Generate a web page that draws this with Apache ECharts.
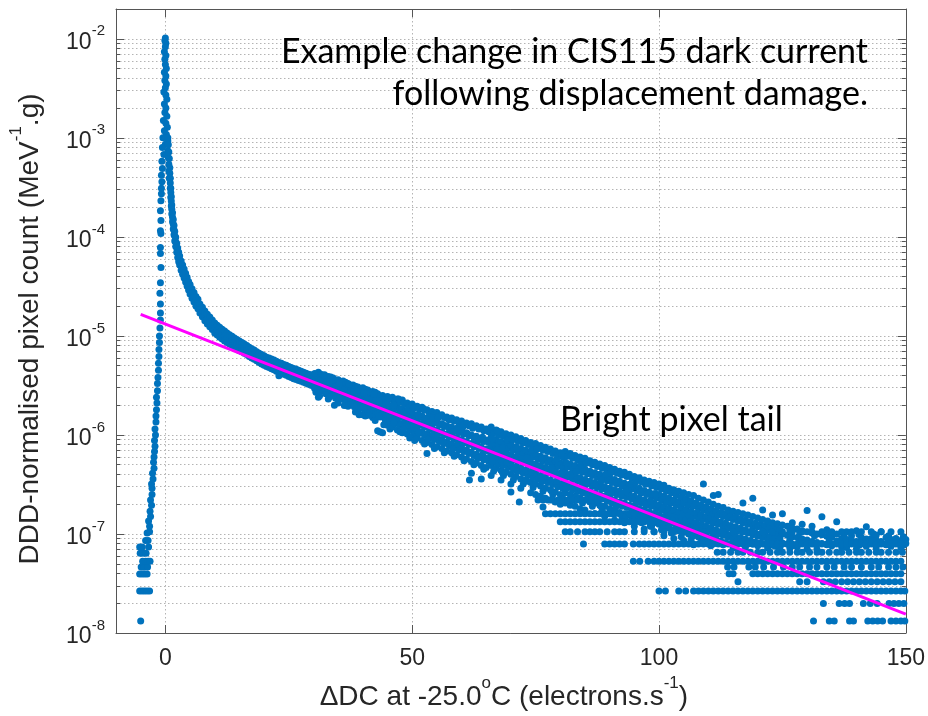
<!DOCTYPE html>
<html>
<head>
<meta charset="utf-8">
<style>
  html, body { margin: 0; padding: 0; background: #fff; }
  #chart { width: 928px; height: 716px; }
</style>
<script src="https://cdn.jsdelivr.net/npm/echarts@6.0.0/dist/echarts.min.js"></script>
</head>
<body>
<div id="chart"></div>
<script>
// Dark-current change histogram (DDD-normalised pixel count vs ΔDC).

// Rising edge below zero: [ΔDC, count]
const leftFlank = [
  [-5.0,1.32e-8],
  [-5.2,2.65e-8],[-4.7,2.65e-8],[-4.2,2.65e-8],[-3.7,2.65e-8],[-3.2,2.65e-8],
  [-5.2,3.95e-8],[-4.7,3.95e-8],[-4.2,3.95e-8],[-3.7,3.95e-8],
  [-4.9,4.65e-8],[-4.3,4.65e-8],[-3.6,4.65e-8],
  [-4.6,5.3e-8],[-4.0,5.3e-8],[-3.5,5.3e-8],[-3.1,5.3e-8],
  [-5.1,6.4e-8],[-4.5,6.4e-8],[-3.9,6.4e-8],
  [-5.2,7.4e-8],[-4.7,7.4e-8],[-3.4,7.4e-8],
  [-4.0,8.6e-8],[-3.5,8.6e-8],
  [-3.7,1.02e-7],[-3.2,1.05e-7],
  [-3.2,1.2e-7],[-3.4,1.35e-7],[-3.0,1.5e-7],[-3.1,1.7e-7],[-2.8,1.95e-7],[-3.0,2.2e-7],
  [-2.7,2.5e-7],[-2.7,2.9e-7],[-2.8,3.2e-7],[-2.5,3.6e-7],[-2.6,4.1e-7],[-2.3,4.6e-7],
  [-2.4,5.3e-7],[-2.3,6.0e-7],[-2.2,6.8e-7],[-2.1,7.7e-7],[-2.2,8.8e-7],[-2.0,1.0e-6],
  [-2.1,1.15e-6],[-1.9,1.35e-6],[-1.9,1.55e-6],[-1.8,1.8e-6],[-1.7,2.1e-6],[-1.8,2.4e-6],
  [-1.6,2.8e-6],[-1.6,3.3e-6],[-1.5,3.8e-6],[-1.4,4.5e-6],[-1.4,5.3e-6],[-1.3,6.2e-6],
  [-1.3,7.3e-6],[-1.2,8.6e-6],[-1.2,1.0e-5],[-1.1,1.2e-5],[-1.0,1.45e-5],[-1.0,1.7e-5],
  [-1.0,2.1e-5],[-1.1,2.7e-5],[-1.0,3.45e-5],[-0.9,4.9e-5],[-1.0,6.8e-5],[-1.0,7.8e-5],
  [-0.9,1.08e-4],[-1.0,1.15e-4],[-0.9,1.46e-4],[-1.0,1.84e-4],[-0.9,2.32e-4],[-0.8,2.72e-4]
];

// Main peak around zero: [ΔDC, count]
const peakColumn = [
  [0.0,1.02e-2],[-0.1,9.6e-3],[0.1,9.0e-3],[0.0,8.3e-3],[-0.2,7.4e-3],[0.1,6.8e-3],
  [-0.1,6.2e-3],[0.0,5.5e-3],[0.2,5.0e-3],[-0.2,4.6e-3],[0.1,4.2e-3],[-0.1,3.8e-3],
  [0.2,3.5e-3],[0.0,3.2e-3],[-0.3,2.9e-3],[0.1,2.7e-3],[0.3,2.45e-3],[-0.2,2.2e-3],
  [0.1,2.0e-3],[-0.1,1.8e-3],[0.3,1.65e-3],[-0.4,1.5e-3],[0.1,1.4e-3],[0.4,1.28e-3],
  [-0.2,1.18e-3],[0.2,1.08e-3],[-0.5,1.0e-3],[0.5,9.3e-4],[0.0,8.6e-4],[-0.6,8.0e-4],
  [0.5,7.4e-4],[-0.3,6.8e-4],[0.6,6.3e-4],[-0.7,5.8e-4],[0.7,5.4e-4],[-0.6,4.9e-4],
  [0.7,4.6e-4],[-0.8,4.2e-4],[0.8,3.9e-4],[-0.7,3.6e-4],[-0.8,3.1e-4]
];

// Fall-off right of the peak: [ΔDC, counts...]
const decayCurve = [
  [0.5,1.0e-3],[0.6,8.5e-4],[0.7,7.2e-4],[0.8,6.2e-4],
  [0.9,5.0e-4,4.4e-4,3.9e-4],
  [1.0,3.9e-4,3.5e-4,3.1e-4],
  [1.1,3.1e-4,2.8e-4,2.5e-4],
  [1.2,2.55e-4,2.3e-4,2.05e-4],
  [1.3,2.1e-4,1.9e-4,1.7e-4],
  [1.45,1.75e-4,1.58e-4,1.42e-4],
  [1.6,1.5e-4,1.35e-4,1.2e-4],
  [1.75,1.3e-4,1.17e-4,1.05e-4],
  [1.9,1.13e-4,1.02e-4,9.1e-5],
  [2.1,9.9e-5,8.9e-5,8.0e-5],
  [2.3,8.6e-5,7.8e-5,7.0e-5],
  [2.5,7.7e-5,6.9e-5,6.2e-5],
  [2.7,7.0e-5,6.3e-5,5.6e-5],
  [2.9,6.4e-5,5.75e-5,5.2e-5],
  [3.2,5.7e-5,5.1e-5,4.6e-5],
  [3.5,5.2e-5,4.7e-5,4.2e-5],
  [3.8,4.75e-5,4.3e-5,3.85e-5],
  [4.1,4.3e-5,3.9e-5,3.5e-5],
  [4.4,3.9e-5,3.55e-5,3.2e-5],
  [4.7,3.55e-5,3.2e-5,2.9e-5],
  [5.0,3.3e-5,2.95e-5,2.65e-5],
  [5.4,3.0e-5,2.7e-5,2.4e-5],
  [5.8,2.75e-5,2.45e-5,2.2e-5],
  [6.2,2.5e-5,2.25e-5,2.0e-5],
  [6.6,2.35e-5,2.1e-5,1.88e-5],
  [7.0,2.1e-5,1.9e-5,1.7e-5],
  [7.5,1.95e-5,1.74e-5,1.56e-5],
  [8.0,1.78e-5,1.58e-5,1.42e-5],
  [8.5,1.65e-5,1.48e-5,1.32e-5],
  [9.0,1.55e-5,1.38e-5,1.24e-5],
  [9.5,1.45e-5,1.29e-5,1.16e-5]
];

// Bright pixel tail: [ΔDC, counts...]
const tailBand = [
  [10,1.35e-5,1.2e-5,1.07e-5],[10.5,1.28e-5,1.14e-5,1.02e-5],[11,1.22e-5,1.09e-5,9.7e-6],
  [11.5,1.17e-5,1.04e-5,9.3e-6],[12,1.12e-5,1.0e-5,8.9e-6],[12.5,1.07e-5,9.6e-6,8.6e-6],
  [13,1.03e-5,9.2e-6,8.3e-6],[13.5,9.9e-6,8.9e-6,8.0e-6],[14,9.5e-6,8.6e-6,7.7e-6],
  [14.5,9.2e-6,8.3e-6,7.4e-6],[15,8.9e-6,8.0e-6,7.1e-6],[15.5,8.6e-6,7.7e-6,6.9e-6],
  [16,8.3e-6,7.4e-6,6.7e-6],[16.5,8.0e-6,7.2e-6,6.5e-6],[17,7.7e-6,6.9e-6,6.2e-6],
  [17.5,7.4e-6,6.7e-6,6.0e-6],[18,7.2e-6,6.5e-6,5.8e-6],[18.5,6.9e-6,6.3e-6,5.6e-6],
  [19,6.7e-6,6.0e-6,5.4e-6],[19.5,6.5e-6,5.8e-6,5.2e-6],[20,6.3e-6,5.6e-6,5.05e-6],
  [20.5,6.1e-6,5.45e-6,4.9e-6],[21,6.0e-6,5.3e-6,4.8e-6],[21.5,5.85e-6,5.2e-6,4.65e-6],
  [22,5.7e-6,5.05e-6,4.55e-6],[22.5,5.55e-6,4.95e-6,4.4e-6],[23,5.4e-6,4.8e-6,4.3e-6,3.95e-6],
  [23.5,5.3e-6,4.7e-6,4.2e-6],[24,5.15e-6,4.6e-6,4.1e-6],[24.5,5.05e-6,4.45e-6,4.0e-6],
  [25,4.9e-6,4.35e-6,3.9e-6],[25.5,4.8e-6,4.25e-6,3.8e-6],[26,4.7e-6,4.15e-6,3.7e-6],
  [26.5,4.6e-6,4.05e-6,3.62e-6],[27,4.5e-6,4.0e-6,3.55e-6],[27.5,4.4e-6,3.9e-6,3.48e-6],
  [28,4.3e-6,3.8e-6,3.4e-6],[28.5,4.2e-6,3.72e-6,3.32e-6],[29,4.1e-6,3.65e-6,3.25e-6],
  [29.5,4.05e-6,3.58e-6,3.18e-6],[30,3.95e-6,3.5e-6,3.1e-6],
  [30.5,3.75e-6,3.3e-6,2.95e-6,2.7e-6],
  [31,4.3e-6,3.8e-6,3.35e-6,2.95e-6,2.4e-6],
  [31.5,4.1e-6,3.6e-6,3.2e-6,2.85e-6],
  [32,4.0e-6,3.55e-6,3.15e-6,2.8e-6],
  [32.5,3.85e-6,3.35e-6,2.95e-6,2.6e-6],
  [33,3.9e-6,3.45e-6,3.0e-6,2.65e-6,2.3e-6],
  [33.5,3.85e-6,3.2e-6,2.8e-6,2.5e-6],
  [34,3.75e-6,3.3e-6,2.9e-6,2.55e-6],
  [34.5,3.55e-6,3.1e-6,2.7e-6,2.35e-6],
  [35,3.6e-6,3.15e-6,2.75e-6,2.45e-6,2.1e-6],
  [35.5,3.45e-6,2.95e-6,2.6e-6,2.3e-6],
  [36,3.5e-6,3.05e-6,2.65e-6,2.3e-6],
  [36.5,3.4e-6,2.85e-6,2.5e-6,2.15e-6],
  [37,3.3e-6,2.9e-6,2.55e-6,2.2e-6,1.95e-6],
  [37.5,3.1e-6,2.7e-6,2.35e-6,2.05e-6],
  [38,3.2e-6,2.8e-6,2.45e-6,2.1e-6],
  [38.5,3.1e-6,2.6e-6,2.25e-6,1.95e-6,1.7e-6],
  [39,3.05e-6,2.65e-6,2.3e-6,2.0e-6,1.75e-6],
  [39.5,2.85e-6,2.45e-6,2.15e-6,1.85e-6],
  [40,3.0e-6,2.55e-6,2.2e-6,1.9e-6,1.6e-6],
  [40.5,2.9e-6,2.4e-6,2.05e-6,1.75e-6,1.55e-6],
  [41,2.85e-6,2.45e-6,2.1e-6,1.8e-6],
  [41.5,2.65e-6,2.3e-6,1.95e-6,1.68e-6],
  [42,2.75e-6,2.35e-6,2.0e-6,1.72e-6,1.5e-6],
  [42.5,2.7e-6,2.2e-6,1.88e-6,1.6e-6,1.4e-6],
  [43,2.6e-6,2.25e-6,1.92e-6,1.65e-6,1.1e-6],
  [43.5,2.45e-6,2.1e-6,1.8e-6,1.52e-6,1.07e-6],
  [44,2.5e-6,2.15e-6,1.85e-6,1.55e-6,1.05e-6],
  [44.5,2.35e-6,2.0e-6,1.7e-6,1.45e-6,1.3e-6],
  [45,2.45e-6,2.05e-6,1.75e-6,1.5e-6,1.25e-6],
  [45.5,2.3e-6,1.9e-6,1.62e-6,1.38e-6,1.15e-6],
  [46,2.4e-6,2.0e-6,1.7e-6,1.45e-6,1.2e-6],
  [46.5,2.2e-6,1.85e-6,1.55e-6,1.3e-6],
  [47,2.3e-6,1.9e-6,1.6e-6,1.35e-6,1.12e-6],
  [47.5,2.15e-6,1.78e-6,1.5e-6,1.25e-6,1.08e-6],
  [48,2.25e-6,1.85e-6,1.55e-6,1.3e-6,1.05e-6],
  [48.5,2.05e-6,1.7e-6,1.42e-6,1.2e-6],
  [49,2.1e-6,1.75e-6,1.48e-6,1.25e-6,1.02e-6],
  [49.5,2.0e-6,1.62e-6,1.37e-6,1.12e-6,9.3e-7],
  [50,2.05e-6,1.7e-6,1.42e-6,1.18e-6,9.7e-7],
  [50.5,1.88e-6,1.55e-6,1.3e-6,1.07e-6,8.8e-7],
  [51,1.95e-6,1.6e-6,1.35e-6,1.12e-6,9.3e-7],
  [51.5,1.82e-6,1.5e-6,1.25e-6,1.04e-6],
  [52,1.9e-6,1.55e-6,1.3e-6,1.08e-6,8.8e-7],
  [52.5,1.78e-6,1.42e-6,1.2e-6,9.9e-7,8.1e-7],
  [53,1.8e-6,1.48e-6,1.23e-6,1.02e-6,8.4e-7,6.5e-7],
  [53.5,1.65e-6,1.37e-6,1.14e-6,9.4e-7],
  [54,1.72e-6,1.42e-6,1.18e-6,9.8e-7,8.0e-7],
  [54.5,1.62e-6,1.32e-6,1.09e-6,9.0e-7,7.3e-7],
  [55,1.68e-6,1.36e-6,1.12e-6,9.3e-7,7.6e-7],
  [55.5,1.55e-6,1.26e-6,1.04e-6,8.6e-7],
  [56,1.6e-6,1.3e-6,1.07e-6,8.9e-7,7.3e-7],
  [56.5,1.5e-6,1.22e-6,1.0e-6,8.2e-7,6.6e-7],
  [57,1.52e-6,1.24e-6,1.02e-6,8.5e-7,6.9e-7],
  [57.5,1.42e-6,1.16e-6,9.5e-7,7.8e-7],
  [58,1.48e-6,1.2e-6,9.8e-7,8.1e-7,6.6e-7],
  [58.5,1.38e-6,1.12e-6,9.1e-7,7.4e-7,6.1e-7],
  [59,1.42e-6,1.14e-6,9.4e-7,7.7e-7,6.3e-7],
  [59.5,1.33e-6,1.06e-6,8.7e-7,7.1e-7],
  [60,1.38e-6,1.1e-6,9.0e-7,7.4e-7,6.0e-7],
  [60.5,1.28e-6,1.02e-6,8.3e-7,6.8e-7,5.5e-7],
  [61,1.32e-6,1.05e-6,8.6e-7,7.0e-7,5.7e-7],
  [61.5,1.24e-6,9.8e-7,8.0e-7,6.5e-7],
  [61.6,3.5e-7],
  [62,1.3e-6,1.0e-6,8.2e-7,6.7e-7,5.4e-7,4.1e-7],
  [62.5,1.2e-6,9.4e-7,7.6e-7,6.2e-7,5.0e-7],
  [63,1.24e-6,9.7e-7,7.9e-7,6.4e-7,5.2e-7],
  [63.5,1.15e-6,9.0e-7,7.3e-7,5.9e-7],
  [64,1.2e-6,9.3e-7,7.5e-7,6.1e-7,4.9e-7,3.6e-7],
  [64.5,1.1e-6,8.6e-7,7.0e-7,5.6e-7,4.5e-7],
  [65,1.15e-6,8.9e-7,7.2e-7,5.8e-7,4.7e-7],
  [65.5,1.08e-6,8.4e-7,6.8e-7,5.4e-7],
  [66,1.2e-6,9.5e-7,7.6e-7,6.1e-7,4.9e-7,3.9e-7],
  [66.5,1.05e-6,8.2e-7,6.6e-7,5.3e-7,4.3e-7],
  [67,1.12e-6,9.0e-7,7.2e-7,5.8e-7,4.6e-7],
  [67.5,1.0e-6,7.9e-7,6.3e-7,5.1e-7],
  [68,1.08e-6,8.6e-7,6.9e-7,5.5e-7,4.4e-7,3.5e-7],
  [68.5,9.8e-7,7.6e-7,6.1e-7,4.9e-7,3.9e-7],
  [69,1.03e-6,8.2e-7,6.6e-7,5.3e-7,4.2e-7],
  [69.5,9.3e-7,7.3e-7,5.8e-7,4.7e-7],
  [70,1.0e-6,7.9e-7,6.3e-7,5.0e-7,4.0e-7,3.2e-7,2.65e-7],
  [70.5,9.0e-7,7.0e-7,5.6e-7,4.5e-7,3.5e-7],
  [71,9.6e-7,7.6e-7,6.0e-7,4.8e-7,3.8e-7],
  [71.5,8.6e-7,6.7e-7,5.4e-7,4.3e-7],
  [71.7,2.1e-7],
  [72,9.2e-7,7.3e-7,5.8e-7,4.6e-7,3.6e-7,2.9e-7],
  [72.5,8.3e-7,6.5e-7,5.2e-7,4.1e-7,3.2e-7],
  [73,8.8e-7,7.0e-7,5.5e-7,4.4e-7,3.5e-7],
  [73.5,8.0e-7,6.2e-7,4.9e-7,3.9e-7],
  [74,8.4e-7,6.7e-7,5.3e-7,4.2e-7,3.3e-7,2.6e-7],
  [74.5,7.6e-7,6.0e-7,4.7e-7,3.7e-7,2.95e-7],
  [75,8.2e-7,6.4e-7,5.1e-7,4.0e-7,3.2e-7,2.5e-7],
  [75.5,7.3e-7,5.7e-7,4.5e-7,3.6e-7],
  [76,7.8e-7,6.1e-7,4.9e-7,3.85e-7,3.05e-7,2.4e-7],
  [76.5,7.0e-7,5.5e-7,4.3e-7,3.4e-7,2.7e-7,1.87e-7],
  [77,7.5e-7,5.9e-7,4.7e-7,3.7e-7,2.9e-7,2.3e-7],
  [77.5,6.8e-7,5.3e-7,4.15e-7,3.3e-7],
  [78,7.2e-7,5.6e-7,4.5e-7,3.5e-7,2.8e-7,2.2e-7],
  [78.5,6.5e-7,5.0e-7,4.0e-7,3.15e-7,2.5e-7],
  [79,6.9e-7,5.4e-7,4.3e-7,3.35e-7,2.65e-7,2.1e-7],
  [79.5,6.3e-7,4.8e-7,3.8e-7,3.0e-7],
  [80,6.6e-7,5.2e-7,4.1e-7,3.2e-7,2.5e-7,2.0e-7],
  [80.5,6.0e-7,4.7e-7,3.7e-7,2.9e-7,2.3e-7],
  [81,6.8e-7,5.3e-7,4.2e-7,3.3e-7,2.6e-7,2.05e-7],
  [81.5,6.1e-7,4.75e-7,3.75e-7,2.95e-7],
  [82,6.5e-7,5.1e-7,4.0e-7,3.15e-7,2.5e-7,1.95e-7],
  [82.5,5.8e-7,4.5e-7,3.55e-7,2.8e-7,2.2e-7],
  [83,6.2e-7,4.9e-7,3.85e-7,3.0e-7,2.4e-7,1.9e-7],
  [83.5,5.6e-7,4.35e-7,3.45e-7,2.7e-7],
  [84,6.0e-7,4.7e-7,3.7e-7,2.9e-7,2.3e-7,1.8e-7],
  [84.5,5.4e-7,4.2e-7,3.3e-7,2.6e-7,2.05e-7],
  [85,5.8e-7,4.5e-7,3.55e-7,2.8e-7,2.2e-7,1.75e-7],
  [85.5,5.2e-7,4.05e-7,3.2e-7,2.5e-7],
  [86,5.5e-7,4.3e-7,3.4e-7,2.7e-7,2.1e-7],
  [86.5,5.0e-7,3.9e-7,3.05e-7,2.4e-7,1.9e-7],
  [87,5.3e-7,4.15e-7,3.3e-7,2.6e-7,2.05e-7,1.6e-7],
  [87.5,4.8e-7,3.75e-7,2.95e-7,2.3e-7],
  [88,5.1e-7,4.0e-7,3.15e-7,2.5e-7,1.95e-7],
  [88.5,4.6e-7,3.6e-7,2.85e-7,2.25e-7,1.75e-7],
  [89,4.9e-7,3.85e-7,3.0e-7,2.4e-7,1.9e-7,1.5e-7],
  [89.5,4.4e-7,3.45e-7,2.75e-7,2.15e-7],
  [90,4.7e-7,3.7e-7,2.9e-7,2.3e-7,1.8e-7],
  [90.5,4.25e-7,3.3e-7,2.6e-7,2.05e-7,1.6e-7],
  [91,4.5e-7,3.55e-7,2.8e-7,2.2e-7,1.75e-7,1.38e-7],
  [91.5,4.1e-7,3.2e-7,2.5e-7,1.98e-7],
  [92,4.3e-7,3.4e-7,2.7e-7,2.1e-7,1.65e-7],
  [92.5,3.95e-7,3.05e-7,2.4e-7,1.9e-7,1.5e-7],
  [93,4.2e-7,3.25e-7,2.6e-7,2.05e-7,1.6e-7,1.3e-7],
  [93.5,3.8e-7,2.95e-7,2.35e-7,1.85e-7],
  [94,4.0e-7,3.15e-7,2.5e-7,1.95e-7,1.55e-7],
  [94.5,3.65e-7,2.85e-7,2.25e-7,1.75e-7,1.4e-7],
  [95,3.8e-7,3.0e-7,2.4e-7,1.9e-7,1.5e-7,1.2e-7],
  [95.5,3.5e-7,2.75e-7,2.15e-7,1.7e-7],
  [96,3.7e-7,2.9e-7,2.3e-7,1.8e-7,1.45e-7],
  [96.5,3.35e-7,2.6e-7,2.05e-7,1.62e-7,1.3e-7],
  [97,3.5e-7,2.75e-7,2.2e-7,1.75e-7,1.4e-7,1.12e-7],
  [97.5,3.2e-7,2.5e-7,1.95e-7,1.55e-7],
  [98,3.4e-7,2.65e-7,2.1e-7,1.68e-7,1.35e-7],
  [98.5,3.05e-7,2.4e-7,1.9e-7,1.5e-7,1.2e-7],
  [99,3.3e-7,2.55e-7,2.05e-7,1.6e-7,1.3e-7,1.05e-7],
  [99.5,2.95e-7,2.3e-7,1.8e-7,1.45e-7],
  [100,3.2e-7,2.5e-7,1.95e-7,1.55e-7,1.25e-7],
  [100.5,2.85e-7,2.2e-7,1.75e-7,1.38e-7,1.1e-7],
  [101,3.1e-7,2.4e-7,1.9e-7,1.5e-7,1.2e-7,9.6e-8],
  [101.5,2.7e-7,2.1e-7,1.68e-7,1.33e-7],
  [102,2.9e-7,2.3e-7,1.82e-7,1.45e-7,1.15e-7],
  [102.5,2.6e-7,2.05e-7,1.6e-7,1.28e-7,1.02e-7],
  [103,2.8e-7,2.2e-7,1.75e-7,1.4e-7,1.1e-7,9.0e-8],
  [103.5,2.45e-7,1.95e-7,1.55e-7,1.22e-7],
  [104,2.7e-7,2.1e-7,1.68e-7,1.35e-7,1.08e-7],
  [104.5,2.35e-7,1.85e-7,1.48e-7,1.18e-7,9.4e-8],
  [105,2.6e-7,2.05e-7,1.62e-7,1.3e-7,1.04e-7,8.6e-8],
  [105.5,2.25e-7,1.78e-7,1.42e-7,1.13e-7],
  [106,2.5e-7,1.95e-7,1.55e-7,1.25e-7,1.0e-7],
  [106.5,2.15e-7,1.7e-7,1.37e-7,1.09e-7,8.8e-8],
  [107,2.45e-7,1.9e-7,1.5e-7,1.2e-7,9.6e-8,7.8e-8],
  [107.5,2.05e-7,1.62e-7,1.3e-7,1.04e-7],
  [108,2.3e-7,1.8e-7,1.45e-7,1.15e-7,9.3e-8],
  [108.5,1.95e-7,1.55e-7,1.25e-7,1.0e-7,8.2e-8],
  [109,3.2e-7,2.2e-7,1.75e-7,1.4e-7,1.1e-7,8.9e-8],
  [109.5,1.88e-7,1.5e-7,1.2e-7,9.6e-8],
  [110,2.1e-7,1.68e-7,1.35e-7,1.07e-7,8.6e-8],
  [110.5,1.8e-7,1.45e-7,1.16e-7,9.2e-8,7.6e-8],
  [111,2.45e-7,2.0e-7,1.6e-7,1.3e-7,1.03e-7,8.3e-8],
  [111.5,1.72e-7,1.38e-7,1.1e-7,8.9e-8],
  [112,2.5e-7,1.9e-7,1.55e-7,1.25e-7,1.0e-7],
  [112.5,1.65e-7,1.32e-7,1.06e-7,8.5e-8],
  [113,1.85e-7,1.5e-7,1.2e-7,9.7e-8,7.8e-8],
  [113.5,1.6e-7,1.28e-7,1.03e-7,8.2e-8],
  [114,1.75e-7,1.45e-7,1.15e-7,9.4e-8],
  [114.5,1.52e-7,1.22e-7,9.8e-8,8.0e-8],
  [115,1.7e-7,1.4e-7,1.12e-7,9.0e-8,7.2e-8],
  [115.5,1.48e-7,1.18e-7,9.5e-8,7.7e-8],
  [116,1.65e-7,1.35e-7,1.08e-7,8.7e-8],
  [116.5,1.42e-7,1.14e-7,9.2e-8],
  [117,2.05e-7,1.6e-7,1.3e-7,1.05e-7,8.4e-8],
  [117.5,1.38e-7,1.1e-7,8.9e-8,7.3e-8],
  [118,1.55e-7,1.25e-7,1.02e-7,8.2e-8],
  [118.5,1.33e-7,1.06e-7,8.6e-8],
  [119,2.3e-7,1.5e-7,1.2e-7,9.8e-8,7.9e-8],
  [119.5,1.28e-7,1.03e-7,8.3e-8],
  [120,1.45e-7,1.18e-7,9.5e-8,7.6e-8],
  [120.5,1.25e-7,1.0e-7,8.1e-8],
  [121,1.75e-7,1.4e-7,1.14e-7,9.2e-8],
  [121.5,1.22e-7,9.8e-8,7.9e-8],
  [122,1.35e-7,1.1e-7,8.9e-8,7.2e-8],
  [122.5,1.18e-7,9.5e-8,7.7e-8],
  [123,1.55e-7,1.3e-7,1.06e-7,8.6e-8],
  [123.5,1.14e-7,9.2e-8,7.5e-8],
  [124,1.27e-7,1.03e-7,8.4e-8],
  [124.5,1.1e-7,9.0e-8,7.3e-8],
  [125,1.6e-7,1.23e-7,1.0e-7,8.1e-8],
  [126,1.2e-7,9.7e-8,7.9e-8],
  [126.5,1.07e-7,8.7e-8,7.2e-8],
  [127,1.3e-7,1.15e-7,9.4e-8,7.6e-8],
  [128,1.12e-7,9.2e-8,7.4e-8],
  [128.5,1.03e-7,8.4e-8],
  [129,1.25e-7,1.08e-7,8.9e-8],
  [130,1.73e-7,1.05e-7,8.7e-8,7.1e-8],
  [131,1.2e-7,1.02e-7,8.4e-8],
  [131.5,9.6e-8,7.9e-8],
  [132,1.0e-7,8.2e-8,7.0e-8],
  [133,1.49e-7,9.8e-8,8.0e-8],
  [134,1.1e-7,9.5e-8,7.8e-8],
  [134.5,1.02e-7,8.7e-8],
  [135,9.3e-8,7.6e-8],
  [136,1.33e-7,1.0e-7,8.5e-8],
  [137,9.0e-8,7.4e-8],
  [137.5,9.6e-8,8.1e-8],
  [138,1.05e-7,8.8e-8,7.3e-8],
  [139,9.6e-8,8.6e-8],
  [140,1.08e-7,8.4e-8,7.1e-8],
  [140.5,9.9e-8,7.7e-8],
  [141,9.2e-8,8.2e-8],
  [142,1.18e-7,8.9e-8,7.5e-8],
  [143,9.0e-8,8.0e-8],
  [143.5,1.0e-7,8.5e-8],
  [144,9.7e-8,8.6e-8,7.2e-8],
  [145,1.05e-7,8.4e-8],
  [146,9.2e-8,7.8e-8],
  [146.5,9.6e-8,8.5e-8],
  [147,8.8e-8,7.5e-8],
  [148,9.0e-8,8.2e-8],
  [149,8.6e-8,7.3e-8],
  [149.5,9.4e-8,7.7e-8],
  [150,8.8e-8,8.0e-8]
];

// Extra readings scattered through the densest part of the tail: [ΔDC, counts...]
const tailScatter = [
  [30.25,4.17e-6,2.94e-6],[31.25,3.53e-6,2.49e-6],[32.25,4.06e-6,2.96e-6],[33.25,3.44e-6,2.42e-6],
  [34.25,2.85e-6,2.0e-6],[35.25,3.33e-6,2.35e-6],[36.25,2.82e-6,1.98e-6],[37.25,3.24e-6,2.37e-6],
  [38.25,2.74e-6,1.93e-6],[39.25,2.28e-6,1.6e-6],[40.25,2.66e-6,1.87e-6],[41.25,2.25e-6,1.58e-6],
  [42.25,2.59e-6,1.89e-6],[43.25,2.2e-6,1.55e-6],[44.25,1.82e-6,1.27e-6],[45.25,2.35e-6,1.6e-6],
  [46.25,1.99e-6,1.33e-6],[47.25,2.3e-6,1.59e-6],[48.25,1.67e-6,1.14e-6],[49.25,1.86e-6,1.26e-6],
  [50.25,1.88e-6,1.28e-6],[51.25,1.6e-6,1.06e-6],[52.25,1.84e-6,1.27e-6],[53.25,1.33e-6,9.1e-7],
  [54.25,1.48e-6,1.01e-6],[55.25,1.5e-6,1.02e-6],[56.25,1.27e-6,8.5e-7],[57.25,1.46e-6,1.01e-6],
  [58.25,1.07e-6,7.3e-7],[59.25,1.19e-6,8.1e-7],[60.25,1.2e-6,8.2e-7],[61.25,1.02e-6,6.8e-7],
  [62.25,1.17e-6,8.1e-7],[63.25,8.5e-7,5.8e-7],[64.25,9.5e-7,6.4e-7],[65.25,1.13e-6,7.1e-7],
  [66.25,9.1e-7,5.4e-7],[67.25,1.1e-6,7.1e-7],[68.25,7.4e-7,4.2e-7],[69.25,8.9e-7,5.3e-7],
  [70.25,9.0e-7,5.65e-7],[71.25,7.3e-7,4.3e-7],[72.25,8.8e-7,5.7e-7],[73.25,5.9e-7,3.4e-7],
  [74.25,7.1e-7,4.25e-7],[75.25,7.2e-7,4.5e-7],[76.25,5.8e-7,3.45e-7],[77.25,7.0e-7,4.5e-7],
  [78.25,4.7e-7,2.7e-7],[79.25,5.7e-7,3.4e-7],[80.25,6.5e-7,4.0e-7],[81.25,5.2e-7,2.9e-7],
  [82.25,6.25e-7,3.95e-7],[83.25,4.25e-7,2.36e-7],[84.25,5.0e-7,3.0e-7],[85.25,5.2e-7,3.2e-7],
  [86.25,4.1e-7,2.35e-7],[87.25,5.0e-7,3.15e-7],[88.25,3.4e-7,1.9e-7],[89.25,4.0e-7,2.4e-7],
  [90.25,4.15e-7,2.55e-7],[91.25,3.3e-7,1.87e-7],[92.25,4.0e-7,2.5e-7],[93.25,2.7e-7,1.5e-7],
  [94.25,3.2e-7,1.92e-7],[95.25,3.3e-7,2.0e-7],[96.25,2.65e-7,1.5e-7],[97.25,3.2e-7,2.0e-7],
  [98.25,2.17e-7,1.2e-7],[99.25,2.55e-7,1.54e-7]
];

// Low-count bins in the tail sit on discrete count levels
const levelValues = [1.32e-8, 1.99e-8, 2.65e-8, 3.3e-8, 3.97e-8, 4.65e-8, 5.3e-8,
                     6.55e-8, 7.9e-8, 1.05e-7, 1.33e-7, 1.6e-7, 2.2e-7];
const levelXs = [
  [131.3,134.5,135.5,138.6,139.4,142.3,143.3,144.3,145.3,147,148,149,149.8],
  [133.3,136.5,137.6,138.6,141.4,142.8,144.2,146.6,147.6,148.6,149.6],
  [100,101.3,104,105.4,107,108,109,110,111,112,113,114,115,116,117,118,119,120,121,122,
   123,124,125,126,127,128,129,130,131,132,133,134,135,136,137,138,139,140,141,142,143,
   144,145,146,147,148,149,149.8],
  [116,128.5,130,133.3,134.5,135.7,137,138.2,139.4,140.6,141.8,143,144.2,145.4,146.6,
   147.8,149],
  [114.2,115,119,120,121,122,123,124,125,126,127,128,129,130,131,132,133,134,135,136,
   137,138,139,140,141,142,143,144,145,146,147,148,149],
  [113.9,115.2,118.2,119.5,121.2,123.2,125.2,127,128.5,130.5,132,134,135.5,137.5,139,
   141,143,144.5,146.5,148,149.4],
  [94.8,96.1,97.8,99,100,101,102,103,104,105,106,107,108,109,110,111,112,113,114,115,
   116,117,118,119,120,121,122,123,124,125,126,127,128,129,130,131,132,133,134,135,136,
   137,138,139,140,141,142,143,144,145,146,147,148,149],
  [111.8,113,114.5,116,117,118.5,120,121,122.5,124,125,126.5,128,129,130.5,132,133,
   134.5,136,137,138.5,140,141,142.5,144,145,146.5,148,149.3],
  [84.7,89,90,91,92,93,94.8,96,97,98,99,100,101,102,103,104,105,106,107,108,109,110,111,
   112,113,114,115,116,117,118,119,120,121,122,123,124,125,126,127,128,129,130,131,132,
   133,134,135,136,137,138,139,140,141,142,143,144,145,146,147,148,149],
  [81,82,83.5,85,86,87,88,89.5,91,92,93,95,97,99,101,103,105,107,109,111,113,115,117,
   119,121,123,125,127,129,131,133,135,137,139,141,143,145,147,149],
  [80,81,82,83,84,85,86,87,88,89,90,91,92,93,94,95,96,97,98,99,100,101],
  [77,78,79,80,81,82,83,84,85,86,87,88,89,90,91,92,94,95,96,97,98,99],
  [75.5,76.5,77.5,78.5,79.5,80.5,81.5,82.5,83.5,84.5,85.5,86.5,87.5]
];

// Exponential fit to the bright pixel tail (end points)
const fitLine = [[-5, 1.65e-5], [150, 1.55e-8]];

// Axis ticks
const xMajorTicks = [0, 50, 100, 150];

const pixelPoints = [];
leftFlank.forEach(p => pixelPoints.push(p));
peakColumn.forEach(p => pixelPoints.push(p));
decayCurve.concat(tailBand, tailScatter).forEach(row => {
  const x = row[0];
  for (let i = 1; i < row.length; i++) pixelPoints.push([x, row[i]]);
});
levelValues.forEach((v, i) => levelXs[i].forEach(x => pixelPoints.push([x, v])));

const FONT = 'Liberation Sans, Arial, sans-serif';
const TEXT = '#262626';
const AXIS = '#555555';
const GRID = { color: '#b4b4b4', width: 1, type: [1.5, 2.5] };

function powLabel(value) {
  const e = Math.log10(value);
  const r = Math.round(e);
  if (Math.abs(e - r) > 1e-6) return '';
  return '{b|10}{s|' + r + '}';
}

const labelRich = {
  b: { fontSize: 23, fontFamily: FONT, color: TEXT, verticalAlign: 'bottom', lineHeight: 30 },
  s: { fontSize: 15, fontFamily: FONT, color: TEXT, verticalAlign: 'top', lineHeight: 16 }
};

const titleRich = {
  a: { fontSize: 28, fontFamily: FONT, color: TEXT, verticalAlign: 'bottom', lineHeight: 36 },
  s: { fontSize: 17, fontFamily: FONT, color: TEXT, verticalAlign: 'top', lineHeight: 18 }
};

const chart = echarts.init(document.getElementById('chart'), null, { renderer: 'canvas' });
chart.setOption({
  animation: false,
  backgroundColor: '#ffffff',
  grid: { left: 113, right: 18, top: 9, bottom: 83, containLabel: false },
  xAxis: [
    {
      type: 'value', min: -10, max: 150, interval: 10, position: 'bottom',
      axisLine: { show: true, onZero: false, lineStyle: { color: AXIS, width: 1 } },
      axisTick: { show: true, inside: true, length: 8, customValues: xMajorTicks,
                  lineStyle: { color: AXIS } },
      axisLabel: { customValues: xMajorTicks, fontSize: 23, fontFamily: FONT, color: TEXT, margin: 14 },
      splitLine: { show: true, lineStyle: GRID },
      name: '{a|ΔDC at -25.0}{s|o}{a|C (electrons.s}{s|-1}{a|)}',
      nameLocation: 'middle', nameGap: 42,
      nameTextStyle: { rich: titleRich, padding: [0, 14, 0, 0] }
    },
    {
      type: 'value', min: -10, max: 150, interval: 10, position: 'top',
      axisLine: { show: true, onZero: false, lineStyle: { color: AXIS, width: 1 } },
      axisTick: { show: true, inside: true, length: 8, customValues: xMajorTicks,
                  lineStyle: { color: AXIS } },
      axisLabel: { show: false },
      splitLine: { show: false }
    }
  ],
  yAxis: [
    {
      type: 'log', logBase: 10, min: 1e-8, max: 0.02, position: 'left',
      axisLine: { show: true, onZero: false, lineStyle: { color: AXIS, width: 1 } },
      axisTick: { show: true, inside: true, length: 8, lineStyle: { color: AXIS } },
      minorTick: { show: true, splitNumber: 9, length: 4, lineStyle: { color: AXIS } },
      axisLabel: { formatter: powLabel, rich: labelRich, margin: 11 },
      splitLine: { show: true, lineStyle: GRID },
      minorSplitLine: { show: true, lineStyle: GRID },
      name: '{a|DDD-normalised pixel count (MeV}{s|-1}{a|.g)}',
      nameLocation: 'middle', nameGap: 72,
      nameTextStyle: { rich: titleRich, padding: [0, 16, 0, 0] }
    },
    {
      type: 'log', logBase: 10, min: 1e-8, max: 0.02, position: 'right',
      axisLine: { show: true, onZero: false, lineStyle: { color: AXIS, width: 1 } },
      axisTick: { show: true, inside: true, length: 8, lineStyle: { color: AXIS } },
      minorTick: { show: true, splitNumber: 9, length: 4, lineStyle: { color: AXIS } },
      axisLabel: { show: false },
      splitLine: { show: false }
    }
  ],
  series: [
    {
      name: 'pixels', type: 'scatter', xAxisIndex: 0, yAxisIndex: 0,
      data: pixelPoints, symbol: 'circle', symbolSize: 7,
      itemStyle: { color: '#0072BD', opacity: 1 },
      emphasis: { disabled: true }, silent: true, z: 2
    },
    {
      name: 'fit', type: 'line', xAxisIndex: 0, yAxisIndex: 0,
      data: fitLine, showSymbol: false, symbol: 'none',
      lineStyle: { color: '#FF00FF', width: 3 },
      emphasis: { disabled: true }, silent: true, z: 3
    }
  ],
  graphic: [
    {
      type: 'text', x: 868, y: 31, z: 10,
      style: {
        text: 'Example change in CIS115 dark current\nfollowing displacement damage.',
        textAlign: 'right', textVerticalAlign: 'top',
        font: '34px Lato, sans-serif', lineHeight: 42, fill: '#000000'
      }
    },
    {
      type: 'text', x: 560, y: 420, z: 10,
      style: {
        text: 'Bright pixel tail',
        textAlign: 'left', textVerticalAlign: 'middle',
        font: '34px Lato, sans-serif', fill: '#000000'
      }
    }
  ]
});
</script>
</body>
</html>
